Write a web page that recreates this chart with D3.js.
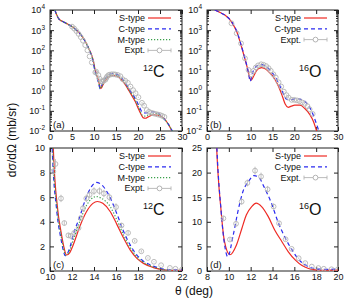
<!DOCTYPE html>
<html>
<head>
<meta charset="utf-8">
<script src="https://cdn.jsdelivr.net/npm/d3@7"></script>
<style>
  body { margin: 0; background: #fff; }
  text { font-family: "Liberation Sans", Arial, sans-serif; }
</style>
</head>
<body>
<script>
// ---- data: [theta (deg), dsigma/dOmega (mb/sr)] ----
const c12S = [[1.1,10000],[1.5,6000],[2,3600],[3,2600],[4,2000],[5,1500],[6,1000],[7,600],[8,280],[9,100],[9.7,40],[10.3,10],[10.7,5],[11,3.2],[11.25,2],[11.5,1.3],[11.8,1.5],[12.1,2.1],[12.7,3.6],[13.3,4.8],[13.9,5.5],[14.3,5.65],[14.8,5.5],[15.5,4.8],[16.1,3.75],[16.7,2.66],[17.3,1.7],[17.9,1.03],[18.5,0.62],[19.4,0.28],[20.3,0.1],[20.8,0.06],[21.2,0.045],[21.7,0.043],[22.3,0.05],[23.5,0.063],[24.6,0.06],[25.8,0.045],[27,0.02],[27.7,0.01],[28.5,0.005]];
const c12C = [[1.1,10000],[1.5,6000],[2,3600],[3,2600],[4,2000],[5,1500],[6,1000],[7,600],[8,280],[9,95],[9.7,35],[10.2,10],[10.6,5],[11,2.6],[11.4,1.25],[11.8,1.9],[12.1,2.9],[12.7,4.4],[13.3,6.0],[13.8,6.9],[14.2,7.2],[14.7,7.0],[15.5,5.9],[16.1,4.6],[16.7,3.2],[17.3,2.1],[17.9,1.3],[18.5,0.8],[19.4,0.4],[20.3,0.16],[21,0.085],[21.6,0.078],[22.5,0.085],[23.5,0.09],[24.5,0.08],[25.5,0.05],[27,0.02],[27.8,0.01],[28.5,0.005]];
const c12M = [[1.1,10000],[1.5,6000],[2,3600],[3,2600],[4,2000],[5,1500],[6,1000],[7,600],[8,280],[9,98],[9.7,38],[10.25,10],[10.65,5],[11,2.9],[11.45,1.3],[11.8,1.7],[12.1,2.5],[12.7,4.0],[13.3,5.3],[13.8,5.9],[14.2,6.05],[14.7,5.9],[15.5,5.2],[16.1,4.1],[16.7,2.9],[17.3,1.9],[17.9,1.15],[18.5,0.7],[19.4,0.33],[20.3,0.12],[21,0.06],[21.6,0.055],[22.5,0.065],[23.5,0.075],[24.5,0.07],[25.5,0.048],[27,0.02],[27.8,0.01],[28.5,0.005]];
// [theta, value, error]
const c12Expt = [[5,1500,0],[5.5,1200,0],[6,900,0],[6.5,650,0],[7,450,0],[7.5,300,0],[8,180,0],[8.5,100,0],[9,50,0],[9.5,25,0],[10.3,8.1,0.3],[10.5,8.7,0.4],[11,5.9,0.3],[11.3,3.9,0.2],[11.67,2.9,0.2],[11.9,2.85,0.2],[12.2,3.1,0.2],[12.6,3.5,0.2],[12.8,4.3,0.2],[13,5.1,0.3],[13.3,5.9,0.3],[13.6,6.2,0.3],[14,6.5,0.3],[14.5,6.5,0.3],[14.9,6.3,0.3],[15.4,6.0,0.3],[16,5.2,0.3],[16.5,3.7,0.2],[17.1,3.1,0.2],[17.7,2.45,0.1],[18.3,1.6,0.1],[18.9,1.06,0.05],[19.45,0.75,0.04],[20.1,0.47,0.03],[20.9,0.25,0.02],[21.4,0.18,0.01],[22,0.11,0],[22.5,0.09,0],[23,0.08,0],[23.5,0.075,0],[24,0.07,0],[24.5,0.066,0],[25,0.062,0],[25.5,0.056,0],[26,0.05,0]];

const o16S = [[1.8,10000],[3,7500],[4.1,5600],[5.6,2600],[6.8,850],[7.9,150],[8.8,30],[9.3,12],[9.6,6],[10.1,3.3],[10.7,5.3],[11.2,8.7],[11.6,11.4],[12.1,13.1],[12.5,13.8],[13,13.1],[13.6,11.1],[14.2,8.35],[14.85,6],[15.45,3.9],[16.1,2.2],[16.7,1.1],[17.3,0.5],[17.9,0.22],[18.6,0.15],[19.3,0.17],[20.1,0.19],[21.3,0.19],[22.4,0.13],[23.6,0.063],[24.4,0.029],[25.1,0.01],[25.8,0.004]];
const o16C = [[1.8,10000],[3,7500],[4.1,5600],[5.6,2700],[6.8,900],[7.9,160],[8.8,32],[9.3,12],[9.6,5.5],[9.9,2.9],[10.4,7.3],[10.9,12.8],[11.3,16.2],[11.8,18.2],[12.3,19.4],[12.8,18.9],[13.2,17.2],[13.9,13.8],[14.5,10],[15.1,7],[15.7,4.6],[16.3,2.6],[17.1,1.1],[17.6,0.6],[18.2,0.38],[19,0.35],[20.5,0.4],[21.5,0.37],[22.5,0.28],[23.5,0.15],[24.5,0.05],[25.5,0.012],[26,0.006]];
const o16Expt = [[5.6,2200,0],[6.8,700,0],[7.8,220,0],[8.7,40,0],[9.5,10.7,0.5],[10.1,6.4,0.3],[10.66,9.6,0.5],[11.17,14.1,0.6],[11.7,17.9,0.7],[12.4,20.4,0.8],[12.95,19.2,0.8],[13.55,16.6,0.7],[14.1,13.1,0.6],[14.6,9.7,0.5],[15.2,6.45,0.3],[15.75,4.5,0.2],[16.4,2.6,0.15],[17,1.6,0.1],[17.6,0.9,0.05],[18.2,0.6,0.04],[18.7,0.45,0.03],[19.4,0.35,0.03],[20,0.35,0.03],[20.6,0.33,0],[21.2,0.3,0],[21.8,0.26,0],[22.4,0.22,0],[23,0.17,0],[23.5,0.12,0],[24.2,0.07,0]];

// tick values
const logXTicks = [0, 5, 10, 15, 20, 25, 30];
const logYTicks = [1e-2, 1e-1, 1e0, 1e1, 1e2, 1e3, 1e4];
const c12XTicks = [10, 12, 14, 16, 18, 20, 22];
const c12YTicks = [0, 2, 4, 6, 8, 10];
const o16XTicks = [8, 10, 12, 14, 16, 18, 20];
const o16YTicks = [0, 5, 10, 15, 20, 25];

const seriesNames = ["S-type", "C-type", "M-type"];
const exptName = "Expt.";

// styles
const lineStyle = {
  "S-type": {stroke: "#ee2a24", dash: null},
  "C-type": {stroke: "#2b2bf0", dash: "4,3"},
  "M-type": {stroke: "#3aa04a", dash: "1.2,1.8"}
};
const exptColor = "#b4b4b4";

const W = 349, H = 304;
const svg = d3.select("body").append("svg")
    .attr("width", W)
    .attr("height", H);

const panels = [
  {tag: "(a)", x0: 50, x1: 182, y0: 10, y1: 131, xDomain: [0, 30], yDomain: [1e-2, 1e4], log: true,
   xTicks: logXTicks, yTicks: logYTicks, mass: "12", el: "C", curves: [c12S, c12C, c12M], expt: c12Expt},
  {tag: "(b)", x0: 207, x1: 338, y0: 10, y1: 131, xDomain: [0, 30], yDomain: [1e-2, 1e4], log: true,
   xTicks: logXTicks, yTicks: logYTicks, mass: "16", el: "O", curves: [o16S, o16C], expt: o16Expt},
  {tag: "(c)", x0: 50, x1: 182, y0: 148, y1: 271, xDomain: [10, 22], yDomain: [0, 10], log: false,
   xTicks: c12XTicks, yTicks: c12YTicks, mass: "12", el: "C", curves: [c12S, c12C, c12M], expt: c12Expt},
  {tag: "(d)", x0: 207, x1: 338, y0: 148, y1: 271, xDomain: [8, 20], yDomain: [0, 25], log: false,
   xTicks: o16XTicks, yTicks: o16YTicks, mass: "16", el: "O", curves: [o16S, o16C], expt: o16Expt}
];

function styleAxis(sel) {
  sel.select(".domain").remove();
  sel.selectAll(".tick line").attr("stroke", "#222");
  sel.selectAll("text").attr("font-family", "Liberation Sans, Arial, sans-serif")
     .attr("font-size", 9).attr("fill", "#111");
}

panels.forEach(function(p, i) {
  const g = svg.append("g");
  const x = d3.scaleLinear().domain(p.xDomain).range([p.x0, p.x1]);
  const y = (p.log ? d3.scaleLog() : d3.scaleLinear()).domain(p.yDomain).range([p.y1, p.y0]);

  const clipId = "clip" + i;
  svg.append("clipPath").attr("id", clipId)
    .append("rect")
    .attr("x", p.x0).attr("y", p.y0)
    .attr("width", p.x1 - p.x0).attr("height", p.y1 - p.y0);

  // minor ticks on the log axes
  if (p.log) {
    const minor = [];
    for (let e = -2; e < 4; e++) for (let k = 2; k <= 9; k++) minor.push(k * Math.pow(10, e));
    g.append("g").attr("transform", `translate(${p.x0},0)`)
      .call(d3.axisLeft(y).tickValues(minor).tickSizeInner(-2).tickSizeOuter(0).tickFormat(""))
      .call(styleAxis);
    g.append("g").attr("transform", `translate(${p.x1},0)`)
      .call(d3.axisRight(y).tickValues(minor).tickSizeInner(-2).tickSizeOuter(0).tickFormat(""))
      .call(styleAxis);
  }

  // bottom / top
  g.append("g").attr("transform", `translate(0,${p.y1})`)
    .call(d3.axisBottom(x).tickValues(p.xTicks).tickSizeInner(-4).tickSizeOuter(0).tickPadding(3))
    .call(styleAxis);
  g.append("g").attr("transform", `translate(0,${p.y0})`)
    .call(d3.axisTop(x).tickValues(p.xTicks).tickSizeInner(-4).tickSizeOuter(0).tickFormat(""))
    .call(styleAxis);

  // left / right
  const left = g.append("g").attr("transform", `translate(${p.x0},0)`)
    .call(d3.axisLeft(y).tickValues(p.yTicks).tickSizeInner(-4).tickSizeOuter(0).tickPadding(5))
    .call(styleAxis);
  g.append("g").attr("transform", `translate(${p.x1},0)`)
    .call(d3.axisRight(y).tickValues(p.yTicks).tickSizeInner(-4).tickSizeOuter(0).tickFormat(""))
    .call(styleAxis);

  if (p.log) {
    left.selectAll(".tick text").each(function(d) {
      const t = d3.select(this).text("");
      t.append("tspan").text("10");
      t.append("tspan").attr("font-size", 6.5).attr("dy", -4).text(Math.round(Math.log10(d)));
    });
  }

  // frame
  g.append("rect")
    .attr("x", p.x0).attr("y", p.y0)
    .attr("width", p.x1 - p.x0).attr("height", p.y1 - p.y0)
    .attr("fill", "none").attr("stroke", "#222").attr("stroke-width", 1);

  // model curves
  const line = d3.line()
    .x(d => x(d[0]))
    .y(d => y(d[1]))
    .curve(d3.curveMonotoneX);
  const plot = g.append("g").attr("clip-path", `url(#${clipId})`);
  p.curves.forEach(function(c, k) {
    const st = lineStyle[seriesNames[k]];
    plot.append("path")
      .datum(c)
      .attr("d", line)
      .attr("fill", "none")
      .attr("stroke", st.stroke)
      .attr("stroke-width", 1.2)
      .attr("stroke-dasharray", st.dash);
  });

  // experimental points with error bars
  const pts = plot.selectAll("g.pt").data(p.expt).join("g").attr("class", "pt");
  pts.filter(d => d[2] > 0).append("line")
    .attr("x1", d => x(d[0])).attr("x2", d => x(d[0]))
    .attr("y1", d => y(d[1] - d[2])).attr("y2", d => y(d[1] + d[2]))
    .attr("stroke", exptColor).attr("stroke-width", 0.8);
  pts.append("circle")
    .attr("cx", d => x(d[0])).attr("cy", d => y(d[1]))
    .attr("r", 2.4)
    .attr("fill", "none")
    .attr("stroke", exptColor)
    .attr("stroke-width", 0.9);

  // legend
  const names = seriesNames.slice(0, p.curves.length).concat([exptName]);
  const lx0 = p.x1 - 34, lx1 = p.x1 - 11, tx = p.x1 - 37;
  names.forEach(function(name, k) {
    const ly = p.y0 + 8 + k * 10.8;
    g.append("text")
      .attr("x", tx).attr("y", ly + 3)
      .attr("text-anchor", "end")
      .attr("font-size", 9).attr("fill", "#111")
      .text(name);
    if (name === exptName) {
      g.append("line").attr("x1", lx0).attr("x2", lx1).attr("y1", ly).attr("y2", ly)
        .attr("stroke", exptColor).attr("stroke-width", 0.9);
      [lx0, lx1].forEach(function(cx) {
        g.append("line").attr("x1", cx).attr("x2", cx).attr("y1", ly - 2).attr("y2", ly + 2)
          .attr("stroke", exptColor).attr("stroke-width", 0.9);
      });
      g.append("circle").attr("cx", (lx0 + lx1) / 2).attr("cy", ly).attr("r", 2.4)
        .attr("fill", "#fff").attr("stroke", exptColor);
    } else {
      const st = lineStyle[name];
      g.append("line").attr("x1", lx0).attr("x2", lx1).attr("y1", ly).attr("y2", ly)
        .attr("stroke", st.stroke).attr("stroke-width", 1.2)
        .attr("stroke-dasharray", st.dash);
    }
  });

  // nucleus label
  const nuc = g.append("text")
    .attr("x", p.x1 - 39).attr("y", p.y0 + 67)
    .attr("fill", "#111");
  nuc.append("tspan").attr("font-size", 9).attr("dy", -6).text(p.mass);
  nuc.append("tspan").attr("font-size", 16).attr("dy", 6).text(p.el);

  // panel tag
  g.append("text")
    .attr("x", p.x0 + 3).attr("y", p.y1 - 3)
    .attr("font-size", 9.5).attr("fill", "#111")
    .text(p.tag);
});

// axis titles
svg.append("text")
  .attr("transform", "translate(16,140) rotate(-90)")
  .attr("text-anchor", "middle")
  .attr("font-size", 12).attr("fill", "#111")
  .text("dσ/dΩ (mb/sr)");

svg.append("text")
  .attr("x", 194).attr("y", 295)
  .attr("text-anchor", "middle")
  .attr("font-size", 12).attr("fill", "#111")
  .text("θ (deg)");
</script>
</body>
</html>
